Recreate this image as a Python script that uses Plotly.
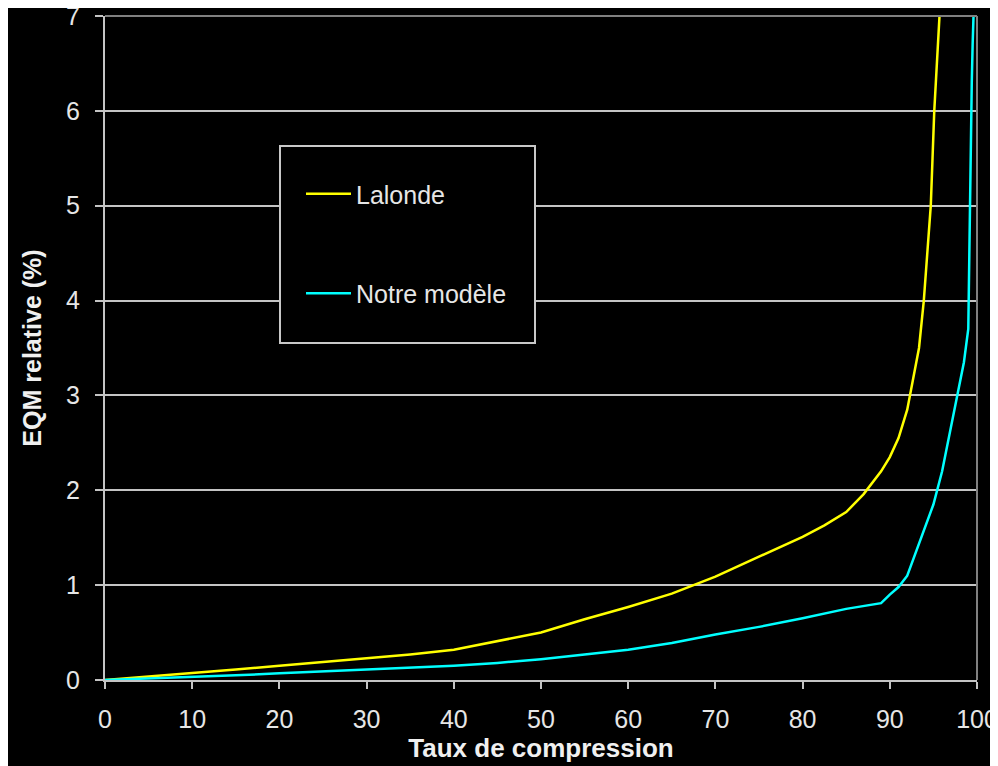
import plotly.graph_objects as go

# ---- data ----
x_lalonde = [0, 5, 10, 15, 20, 25, 30, 35, 40, 45, 50, 55, 60, 65, 70, 75, 80, 82.5, 85,
             87, 88, 89, 90, 91, 92, 92.3, 92.8, 93.35, 93.9, 94.3, 94.7, 94.9, 95.1,
             95.4, 95.7, 96.0]
y_lalonde = [0, 0.035, 0.07, 0.11, 0.15, 0.19, 0.23, 0.27, 0.32, 0.41, 0.50, 0.64,
             0.77, 0.91, 1.09, 1.30, 1.51, 1.63, 1.77, 1.96, 2.08, 2.20, 2.35, 2.55, 2.85,
             3.0, 3.25, 3.5, 4.0, 4.5, 5.0, 5.5, 6.0, 6.5, 7.0, 7.5]

x_modele = [0, 5, 10, 15, 20, 25, 30, 35, 40, 45, 50, 55, 60, 65, 70, 75, 80, 85,
            89, 90, 91, 92, 93, 94, 95, 96, 97, 98, 98.5, 99.0, 99.1, 99.2, 99.3,
            99.4, 99.5, 99.6, 99.7]
y_modele = [0, 0.015, 0.035, 0.05, 0.07, 0.09, 0.115, 0.13, 0.15, 0.18, 0.22, 0.27,
            0.32, 0.39, 0.48, 0.56, 0.65, 0.75, 0.81, 0.90, 0.98, 1.10, 1.35, 1.58,
            1.85, 2.20, 2.65, 3.12, 3.35, 3.70, 4.5, 5.3, 5.9, 6.3, 6.7, 7.0, 7.3]

series_names = ["Lalonde", "Notre modèle"]
series_colors = ["#ffff00", "#00ffff"]

x_title = "Taux de compression"
y_title = "EQM relative (%)"
x_ticks = [0, 10, 20, 30, 40, 50, 60, 70, 80, 90, 100]
y_ticks = [0, 1, 2, 3, 4, 5, 6, 7]

FONT = "Liberation Sans, Arial, sans-serif"
GRID = "#c4c4c4"
TXT = "#e6e6e6"

# page body has an 8px margin, so the figure is sized to fit the 998x766 window
W, H = 990, 758
ML, MR, MT, MB = 97, 21, 8, 86

fig = go.Figure()
fig.add_trace(go.Scatter(x=x_lalonde, y=y_lalonde, mode="lines", name=series_names[0],
                         legendgroup="a", line=dict(color=series_colors[0], width=2.5)))
fig.add_trace(go.Scatter(x=x_modele, y=y_modele, mode="lines", name=series_names[1],
                         legendgroup="b", line=dict(color=series_colors[1], width=2.5)))

fig.update_layout(
    width=W, height=H,
    margin=dict(l=ML, r=MR, t=MT, b=MB, autoexpand=False),
    paper_bgcolor="black", plot_bgcolor="black",
    font=dict(family=FONT, color=TXT, size=25),
    showlegend=True,
    legend=dict(x=(301 - 105) / 872, y=(680 - 171) / 664, xanchor="left", yanchor="top",
                bgcolor="rgba(0,0,0,0)", borderwidth=0, tracegroupgap=64,
                itemwidth=45, font=dict(size=25, color=TXT, family=FONT)),
    xaxis=dict(range=[0, 100], tickvals=x_ticks, showgrid=False, zeroline=False,
               automargin=False, ticklabeloverflow="allow",
               showline=True, linecolor=GRID, linewidth=2,
               ticks="outside", ticklen=7, tickwidth=1.5, tickcolor=GRID,
               tickfont=dict(size=25, color=TXT), ticklabelstandoff=9,
               title=dict(text="<b>" + x_title + "</b>", font=dict(size=26, color="#f0f0f0"),
                          standoff=6)),
    yaxis=dict(range=[0, 7], tickvals=y_ticks, showgrid=True, gridcolor=GRID, gridwidth=2,
               zeroline=False, showline=True, linecolor=GRID, linewidth=2,
               automargin=False, ticklabeloverflow="allow",
               ticks="outside", ticklen=8, tickwidth=1.5, tickcolor=GRID,
               tickfont=dict(size=25, color=TXT), ticklabelstandoff=10,
               title=dict(text="<b>" + y_title + "</b>", font=dict(size=25, color="#f0f0f0"),
                          standoff=17)),
    shapes=[
        # top and right border of plot area
        dict(type="line", xref="paper", yref="paper", x0=0, x1=1, y0=1, y1=1,
             line=dict(color="#808080", width=2), layer="above"),
        dict(type="line", xref="paper", yref="paper", x0=1, x1=1, y0=0, y1=1,
             line=dict(color="#808080", width=2), layer="above"),
        # legend box
        dict(type="rect", xref="paper", yref="paper",
             x0=(280 - 105) / 872, x1=(535 - 105) / 872,
             y0=(680 - 343) / 664, y1=(680 - 146) / 664,
             fillcolor="black", line=dict(color="#c8c8c8", width=2), layer="above"),
    ],
)

fig.write_html("out.html")
